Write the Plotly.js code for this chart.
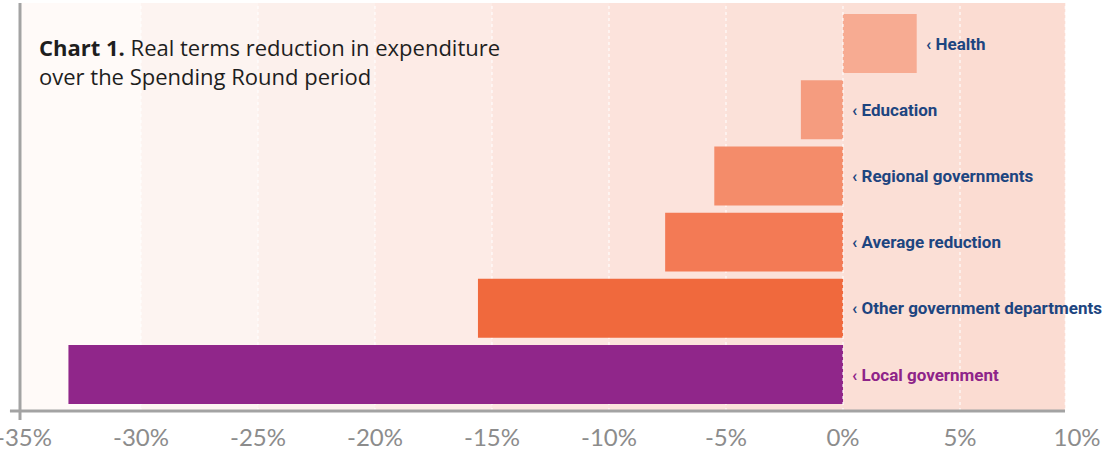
<!DOCTYPE html>
<html>
<head>
<meta charset="utf-8">
<script src="https://cdn.plot.ly/plotly-3.0.1.min.js"></script>
<style>
html,body{margin:0;padding:0;background:#fff;}
#chart{width:1107px;height:457px;}
</style>
</head>
<body>
<div id="chart"></div>
<script>
// Data
const categories = ["Local government", "Other government departments", "Average reduction", "Regional governments", "Education", "Health"];
const values = [-33.1, -15.6, -7.6, -5.5, -1.8, 3.15];
const barColors = ["#90268a", "#f0693d", "#f37a55", "#f48c6a", "#f59c7f", "#f7ab92"];
const labelColors = ["#8e2489", "#1d4580", "#1d4580", "#1d4580", "#1d4580", "#1d4580"];
const tickVals = [-35, -30, -25, -20, -15, -10, -5, 0, 5, 10];
const tickText = ["-35%", "-30%", "-25%", "-20%", "-15%", "-10%", "-5%", "0%", "5%", "10%"];
const bandEdges = [-35.2, -30, -25, -20, -15, -10, -5, 0, 5, 9.5];
const bandColors = ["#fffaf8", "#fdf4f1", "#fcf0ec", "#fdebe6", "#fce6e0", "#fce3dc", "#fbe1d9", "#fbdfd6", "#fbdcd2"];

const yIdx = categories.map((c, i) => i);

const shapes = [];
for (let i = 0; i < bandColors.length; i++) {
  shapes.push({type: "rect", xref: "x", yref: "paper", x0: bandEdges[i], x1: bandEdges[i + 1], y0: 0, y1: 1,
    fillcolor: bandColors[i], line: {width: 0}, layer: "below"});
}
// dotted white gridlines
for (let i = 1; i < bandEdges.length; i++) {
  shapes.push({type: "line", xref: "x", yref: "paper", x0: bandEdges[i], x1: bandEdges[i], y0: 0, y1: 1,
    line: {color: "rgba(255,255,255,0.9)", width: 1.2, dash: "dot"}, layer: i === 7 ? "above" : "below"});
}
// axis lines
shapes.push({type: "line", xref: "paper", yref: "paper", x0: 0, x1: 0, y0: -0.022, y1: 1,
  line: {color: "#a3a3a3", width: 3}});
shapes.push({type: "line", xref: "paper", yref: "paper", x0: -0.0095, x1: (1065 - 20) / 1057, y0: 0, y1: 0,
  line: {color: "#a3a3a3", width: 3}});

const annotations = categories.map((c, i) => ({
  x: Math.max(values[i], 0), y: yIdx[i], xref: "x", yref: "y",
  text: "‹ " + c, showarrow: false, xanchor: "left", yanchor: "middle",
  xshift: 7,
  font: {family: "'Liberation Sans Narrow', 'Arial Narrow', Roboto, sans-serif", size: 17, color: labelColors[i], weight: 700}
}));
annotations.push({
  xref: "paper", yref: "paper", x: 0.016, y: 0.935, xanchor: "left", yanchor: "top", align: "left",
  showarrow: false,
  text: "<b>Chart 1.</b> Real terms reduction in expenditure<br>over the Spending Round period",
  font: {family: "'Open Sans', Lato, sans-serif", size: 22, color: "#1e1e1e"}
});

const trace = {
  type: "bar", orientation: "h",
  x: values, y: yIdx,
  marker: {color: barColors, line: {width: 0}},
  width: 0.89,
  hoverinfo: "skip"
};

const layout = {
  width: 1107, height: 457,
  margin: {l: 20, r: 30, t: 3, b: 46},
  paper_bgcolor: "#ffffff", plot_bgcolor: "rgba(0,0,0,0)",
  showlegend: false,
  xaxis: {
    range: [-35.17, 10], tickvals: tickVals, ticktext: tickText,
    showgrid: false, zeroline: false, showline: false, ticks: "",
    tickfont: {family: "Lato, 'Open Sans', sans-serif", size: 24, color: "#8c8c8c"},
    ticklabelstandoff: 10, ticklabeloverflow: "allow", fixedrange: true
  },
  yaxis: {
    range: [-0.551, 5.612], showticklabels: false, showgrid: false, zeroline: false, showline: false,
    ticks: "", fixedrange: true
  },
  shapes: shapes,
  annotations: annotations
};

Plotly.newPlot("chart", [trace], layout, {displayModeBar: false, staticPlot: true});
</script>
</body>
</html>
